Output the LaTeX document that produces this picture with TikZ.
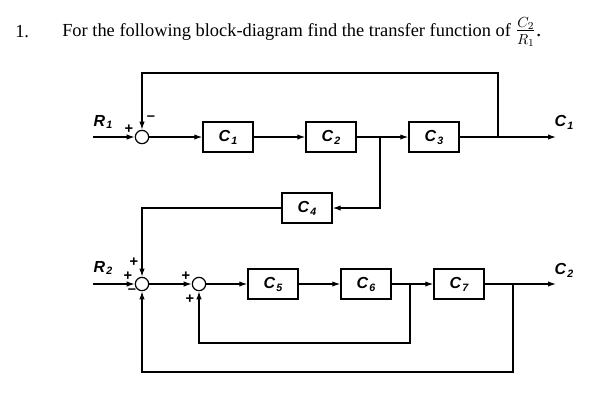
\documentclass[tikz,border=0pt]{standalone}
\usepackage{fontspec}
\setmainfont{Liberation Serif}
\newfontfamily\blockfont{Liberation Sans}
\usetikzlibrary{arrows.meta, positioning, calc}
\newcommand{\sig}[2]{{\blockfont\bfseries\itshape #1\kern0.8pt\raisebox{-0.35ex}{\fontsize{8}{9}\selectfont #2}}}
\tikzset{
  base/.style={draw=black, align=center, font=\blockfont\fontsize{12}{14}\selectfont},
  block/.style={base, line width=1.5pt, minimum width=37pt, minimum height=22pt, inner sep=0pt},
  sumpt/.style={draw=black, line width=0.9pt, circle, minimum size=10pt, inner sep=0pt},
  sgn/.style={font=\blockfont\bfseries\fontsize{11}{12}\selectfont, inner sep=0pt},
  lbl/.style={font=\fontsize{12}{14}\selectfont, inner sep=0pt},
  arr/.style={-{Latex[length=6pt,width=4pt]}, line width=0.9pt},
}
\begin{document}
\begin{tikzpicture}[x=0.75pt, y=-0.75pt]
  \useasboundingbox (0,0) rectangle (590,405);
  % question
  \node[anchor=west, font=\fontsize{13.8}{16}\selectfont, inner sep=0pt] (num) at (15,32) {1.};
  \node[anchor=west, font=\fontsize{13.8}{16}\selectfont, inner sep=0pt] (quest) at (62,32)
    {For the following block-diagram find the transfer function of};
  \node[anchor=west, inner sep=0pt, font=\fontsize{16}{18}\selectfont] (frac) at ([xshift=3pt]quest.east)
    {$\frac{C_2}{R_1}$.};

  % upper loop
  \coordinate (in1) at (93,137);
  \node[sumpt] (s1) at (142,137) {};
  \node[block] (c1) at (228,137) {\sig{C}{1}};
  \node[block] (c2) at (331,137) {\sig{C}{2}};
  \node[block] (c3) at (434,137) {\sig{C}{3}};
  \coordinate (c4tap) at (380,137);
  \coordinate (fb1) at (498,137);
  \coordinate (out1) at (556,137);
  \node[block] (c4) at (307,208) {\sig{C}{4}};

  % lower loops
  \coordinate (in2) at (93,284);
  \node[sumpt] (s2) at (142,284) {};
  \node[sumpt] (s3) at (199,284) {};
  \node[block] (c5) at (273,284) {\sig{C}{5}};
  \node[block] (c6) at (366,284) {\sig{C}{6}};
  \node[block] (c7) at (459,284) {\sig{C}{7}};
  \coordinate (c6tap) at (410,284);
  \coordinate (fb2) at (513,284);
  \coordinate (out2) at (556,284);

  % labels and signs
  \node[lbl] (r1lbl) at (103,122) {\sig{R}{1}};
  \node[lbl] (c1lbl) at (564,122) {\sig{C}{1}};
  \node[lbl] (r2lbl) at (103,268) {\sig{R}{2}};
  \node[lbl] (c2lbl) at (564,270) {\sig{C}{2}};
  \node[sgn] at (129,129) {+};
  \node[sgn] at (151,118) {\textendash};
  \node[sgn] at (134,262) {+};
  \node[sgn] at (128,276) {+};
  \node[sgn] at (132,291) {\textendash};
  \node[sgn] at (186,276) {+};
  \node[sgn] at (190,299) {+};

  % forward paths
  \draw[arr] (in1) -- (s1);
  \draw[arr] (s1) -- (c1);
  \draw[arr] (c1) -- (c2);
  \draw[arr] (c2) -- (c3);
  \draw[arr] (c3) -- (out1);
  \draw[arr] (in2) -- (s2);
  \draw[arr] (s2) -- (s3);
  \draw[arr] (s3) -- (c5);
  \draw[arr] (c5) -- (c6);
  \draw[arr] (c6) -- (c7);
  \draw[arr] (c7) -- (out2);

  % feedback paths
  \draw[arr] (fb1) -- ++(0,-64) -| (s1.north);
  \draw[arr] (c4tap) |- (c4.east);
  \draw[arr] (c4.west) -| (s2.north);
  \draw[arr] (c6tap) -- ++(0,59) -| (s3.south);
  \draw[arr] (fb2) -- ++(0,88) -| (s2.south);
\end{tikzpicture}
\end{document}
